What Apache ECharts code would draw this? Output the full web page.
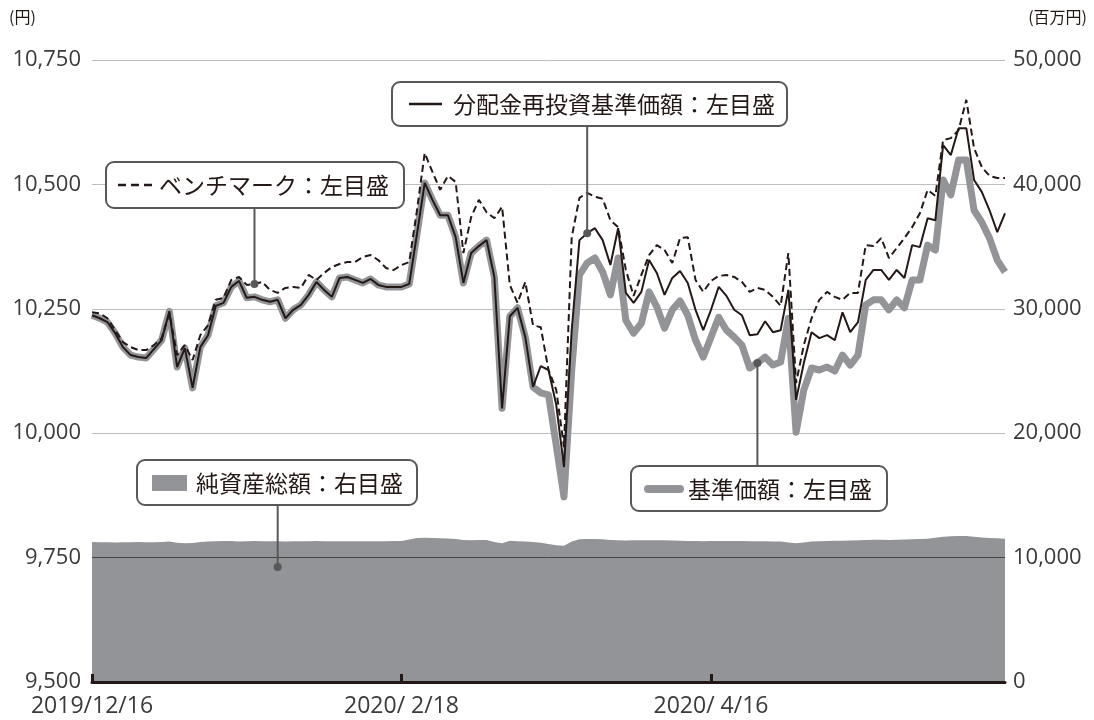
<!DOCTYPE html>
<html><head><meta charset="utf-8">
<script src="https://cdn.jsdelivr.net/npm/echarts@6/dist/echarts.min.js"></script>
<style>html,body{margin:0;padding:0;background:#fff}#c{width:1094px;height:720px}</style>
</head><body><div id="c"></div>
<script>
const dates = [
'2019/12/16','2019/12/17','2019/12/18','2019/12/19','2019/12/20','2019/12/23','2019/12/24','2019/12/25','2019/12/26','2019/12/27','2019/12/30',
'2020/1/6','2020/1/7','2020/1/8','2020/1/9','2020/1/10','2020/1/14','2020/1/15','2020/1/16','2020/1/17','2020/1/20','2020/1/21','2020/1/22','2020/1/23','2020/1/24','2020/1/27','2020/1/28','2020/1/29','2020/1/30','2020/1/31',
'2020/2/3','2020/2/4','2020/2/5','2020/2/6','2020/2/7','2020/2/10','2020/2/12','2020/2/13','2020/2/14','2020/2/17','2020/2/18','2020/2/19','2020/2/20','2020/2/21','2020/2/25','2020/2/26','2020/2/27','2020/2/28',
'2020/3/2','2020/3/3','2020/3/4','2020/3/5','2020/3/6','2020/3/9','2020/3/10','2020/3/11','2020/3/12','2020/3/13','2020/3/16','2020/3/17','2020/3/18','2020/3/19','2020/3/23','2020/3/24','2020/3/25','2020/3/26','2020/3/27','2020/3/30','2020/3/31',
'2020/4/1','2020/4/2','2020/4/3','2020/4/6','2020/4/7','2020/4/8','2020/4/9','2020/4/10','2020/4/13','2020/4/14','2020/4/15','2020/4/16','2020/4/17','2020/4/20','2020/4/21','2020/4/22','2020/4/23','2020/4/24','2020/4/27','2020/4/28','2020/4/30',
'2020/5/1','2020/5/7','2020/5/8','2020/5/11','2020/5/12','2020/5/13','2020/5/14','2020/5/15','2020/5/18','2020/5/19','2020/5/20','2020/5/21','2020/5/22','2020/5/25','2020/5/26','2020/5/27','2020/5/28','2020/5/29',
'2020/6/1','2020/6/2','2020/6/3','2020/6/4','2020/6/5','2020/6/8','2020/6/9','2020/6/10','2020/6/11','2020/6/12','2020/6/15'];

// 分配金再投資基準価額 (円)
const navReinvested = [10237,10231,10223,10201,10173,10157,10153,10151,10169,10187,
10245,10133,10171,10091,10173,10197,10256,10262,10294,10306,
10272,10274,10268,10264,10268,10231,10248,10258,10278,10304,
10288,10274,10312,10314,10308,10302,10310,10298,10294,10294,
10294,10300,10400,10503,10469,10438,10438,10394,10302,10362,
10376,10388,10314,10050,10235,10252,10193,10093,10135,10127,
10057,9932,10207,10388,10402,10412,10388,10338,10412,10282,
10262,10284,10348,10322,10278,10312,10326,10302,10248,10207,
10248,10294,10276,10248,10237,10197,10199,10225,10203,10207,
10288,10067,10141,10203,10191,10197,10187,10243,10203,10223,
10308,10328,10328,10308,10328,10312,10378,10374,10432,10428,
10579,10559,10613,10613,10509,10485,10448,10404,10442];

// 基準価額 (円)
const nav = [10237,10231,10223,10201,10173,10157,10153,10151,10169,10187,
10245,10133,10171,10091,10173,10197,10256,10262,10294,10306,
10272,10274,10268,10264,10268,10231,10248,10258,10278,10304,
10288,10274,10312,10314,10308,10302,10310,10298,10294,10294,
10294,10300,10400,10503,10469,10438,10438,10394,10302,10362,
10376,10388,10314,10050,10235,10252,10193,10093,10081,10077,
9976,9872,10127,10318,10342,10352,10324,10278,10352,10227,
10201,10221,10284,10254,10211,10248,10266,10237,10187,10153,
10193,10233,10207,10193,10177,10131,10141,10153,10137,10143,
10231,10002,10087,10131,10127,10133,10125,10157,10137,10157,
10258,10268,10268,10248,10268,10252,10308,10308,10378,10368,
10509,10479,10549,10549,10448,10424,10392,10348,10324];

// ベンチマーク (円)
const benchmark = [10243,10241,10231,10207,10183,10173,10167,10167,10177,10191,
10241,10157,10177,10147,10197,10217,10268,10272,10308,10314,
10298,10300,10304,10288,10282,10292,10294,10292,10318,10308,
10322,10334,10340,10344,10344,10354,10358,10348,10332,10328,
10338,10344,10448,10563,10525,10489,10517,10505,10362,10434,
10469,10444,10432,10455,10298,10262,10304,10217,10213,10127,
10087,9972,10394,10473,10483,10475,10471,10428,10414,10328,
10276,10318,10358,10378,10368,10342,10392,10394,10308,10284,
10306,10316,10318,10314,10304,10284,10292,10288,10274,10256,
10362,10101,10177,10231,10268,10284,10274,10268,10282,10282,
10378,10376,10392,10352,10372,10392,10414,10442,10489,10477,
10589,10593,10609,10670,10573,10535,10517,10513,10513];

// 純資産総額 (百万円)
const netAssets = [11250,11240,11230,11220,11230,11240,11250,11240,11230,11260,
11300,11200,11150,11180,11250,11300,11320,11340,11330,11300,
11320,11330,11320,11320,11310,11300,11310,11320,11320,11330,
11320,11320,11320,11320,11320,11320,11320,11320,11320,11330,
11340,11450,11580,11600,11580,11560,11540,11500,11420,11400,
11410,11420,11250,11150,11350,11320,11300,11250,11200,11100,
11000,10950,11300,11480,11500,11490,11470,11420,11400,11380,
11390,11400,11400,11400,11390,11380,11360,11340,11330,11320,
11330,11340,11340,11330,11330,11320,11320,11310,11300,11300,
11220,11150,11220,11300,11320,11330,11350,11360,11380,11400,
11420,11430,11430,11420,11430,11450,11480,11500,11520,11600,
11680,11720,11740,11730,11680,11620,11580,11550,11520];

const leftTicks = {min: 9500, max: 10750, interval: 250};
const rightTicks = {min: 0, max: 50000, interval: 10000};

const FONT = '"Noto Sans CJK JP", "Noto Sans", sans-serif';
const NUMFONT = '"Open Sans", "Noto Sans", sans-serif';
const INK = '#231815';
const GREY = '#939498';
const LABEL = '#3a3a3a';

const chart = echarts.init(document.getElementById('c'), null, {renderer: 'canvas'});
const fmtNum = v => Number(v).toLocaleString('en-US');
const fmtDate = s => {
  const p = s.split('/');
  const m = p[1].length < 2 ? ' ' + p[1] : p[1];
  const d = p[2].length < 2 ? ' ' + p[2] : p[2];
  return p[0] + '/' + m + '/' + d;
};

chart.setOption({
  animation: false,
  backgroundColor: '#fff',
  grid: {left: 92, right: 89, top: 60, bottom: 38, containLabel: false},
  xAxis: {
    type: 'category', data: dates, boundaryGap: false, z: 10,
    axisLine: {show: true, lineStyle: {color: INK, width: 3}},
    axisTick: {show: true, inside: true, length: 8, interval: 39, lineStyle: {color: INK, width: 3}},
    axisLabel: {interval: 39, margin: 13, fontSize: 23, color: LABEL, fontFamily: NUMFONT, formatter: fmtDate},
    splitLine: {show: false}
  },
  yAxis: [
    {type: 'value', min: leftTicks.min, max: leftTicks.max, interval: leftTicks.interval,
     axisLine: {show: false}, axisTick: {show: false},
     axisLabel: {margin: 11, fontSize: 22, color: LABEL, fontFamily: NUMFONT, formatter: fmtNum},
     splitLine: {show: true, lineStyle: {color: '#bdbdbd', width: 1}}},
    {type: 'value', min: rightTicks.min, max: rightTicks.max, interval: rightTicks.interval,
     axisLine: {show: false}, axisTick: {show: false},
     axisLabel: {margin: 8, fontSize: 22, color: LABEL, fontFamily: NUMFONT, formatter: fmtNum},
     splitLine: {show: false}}
  ],
  series: [
    {name: '純資産総額', type: 'line', yAxisIndex: 1, data: netAssets, showSymbol: false, z: 1,
     lineStyle: {width: 0}, areaStyle: {color: GREY, opacity: 1}, itemStyle: {color: GREY},
     markLine: {silent: true, symbol: 'none', label: {show: false},
       lineStyle: {color: '#444', width: 1, type: 'solid'}, data: [{yAxis: 10000}]}},
    {name: '基準価額', type: 'line', data: nav, showSymbol: false, z: 3,
     lineStyle: {color: GREY, width: 7, join: 'round'}, itemStyle: {color: GREY}},
    {name: '分配金再投資基準価額', type: 'line', data: navReinvested, showSymbol: false, z: 4,
     lineStyle: {color: INK, width: 2}, itemStyle: {color: INK}},
    {name: 'ベンチマーク', type: 'line', data: benchmark, showSymbol: false, z: 5,
     lineStyle: {color: INK, width: 2, type: [7, 4]}, itemStyle: {color: INK}}
  ]
});

const pBench = chart.convertToPixel({xAxisIndex: 0, yAxisIndex: 0}, [21, benchmark[21]]);
const pReinv = chart.convertToPixel({xAxisIndex: 0, yAxisIndex: 0}, [64, navReinvested[64]]);
const pNav = chart.convertToPixel({xAxisIndex: 0, yAxisIndex: 0}, [86, nav[86]]);
const pAssets = chart.convertToPixel({xAxisIndex: 0, yAxisIndex: 1}, [24, 9250]);

const boxStyle = {fill: '#fff', stroke: '#58585a', lineWidth: 2};
const txt = (x, y, t, size, align) => ({type: 'text', x, y, z: 20,
  style: {text: t, font: `${size}px ${FONT}`, fill: INK, textAlign: align || 'left', textVerticalAlign: 'middle'}});
const leader = (x, y1, y2) => ({type: 'line', z: 15, shape: {x1: x, y1: y1, x2: x, y2: y2}, style: {stroke: '#58585a', lineWidth: 2}});
const dot = p => ({type: 'circle', z: 16, shape: {cx: p[0], cy: p[1], r: 4}, style: {fill: '#58585a'}});

chart.setOption({
  graphic: [
    txt(9, 17, '(円)', 16),
    txt(1087, 17, '(百万円)', 16, 'right'),
    // benchmark box
    leader(pBench[0], 208, pBench[1]), dot(pBench),
    {type: 'rect', z: 18, shape: {x: 106, y: 162, width: 298, height: 46, r: 8}, style: boxStyle},
    {type: 'line', z: 20, shape: {x1: 118, y1: 185, x2: 152, y2: 185}, style: {stroke: INK, lineWidth: 2.5, lineDash: [8, 5]}},
    txt(159, 185, 'ベンチマーク：左目盛', 23),
    // reinvested box
    leader(pReinv[0], 126, pReinv[1]), dot(pReinv),
    {type: 'rect', z: 18, shape: {x: 392, y: 82, width: 395, height: 44, r: 8}, style: boxStyle},
    {type: 'line', z: 20, shape: {x1: 409, y1: 104, x2: 442, y2: 104}, style: {stroke: INK, lineWidth: 2.5}},
    txt(453, 104, '分配金再投資基準価額：左目盛', 23),
    // net assets box
    leader(pAssets[0], 504, pAssets[1]), dot(pAssets),
    {type: 'rect', z: 18, shape: {x: 137, y: 460, width: 280, height: 45, r: 8}, style: boxStyle},
    {type: 'rect', z: 20, shape: {x: 152, y: 475, width: 35, height: 16}, style: {fill: GREY}},
    txt(196, 483, '純資産総額：右目盛', 23),
    // nav box
    leader(pNav[0], 466, pNav[1]), dot(pNav),
    {type: 'rect', z: 18, shape: {x: 631, y: 466, width: 256, height: 45, r: 8}, style: boxStyle},
    {type: 'line', z: 20, shape: {x1: 648, y1: 489, x2: 680, y2: 489}, style: {stroke: GREY, lineWidth: 8, lineCap: 'round'}},
    txt(688, 489, '基準価額：左目盛', 23)
  ]
});
</script></body></html>
